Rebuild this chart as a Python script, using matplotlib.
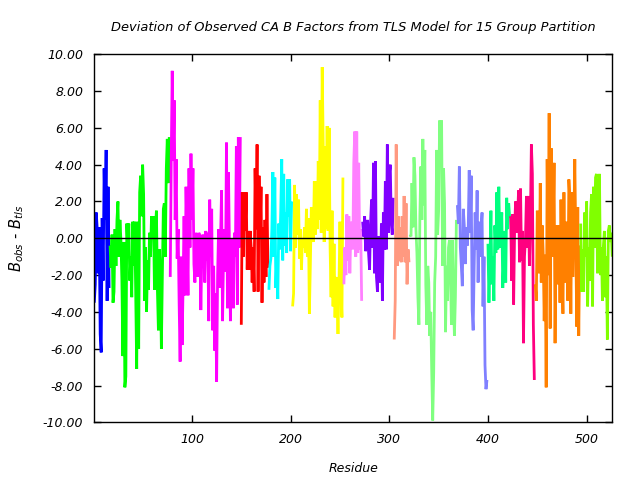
import matplotlib
matplotlib.use("Agg")
import matplotlib.pyplot as plt
import numpy as np

plt.rcParams['axes.unicode_minus'] = False
plt.rcParams['font.family'] = ['DejaVu Sans']

title = "Deviation of Observed CA B Factors from TLS Model for 15 Group Partition"

group_colors = ["#0000ff", "#00ff00", "#ff00ff", "#ff0000", "#00ffff", "#ffff00",
                "#ff80ff", "#8000ff", "#ff9980", "#80ff80", "#8080ff", "#00ff80",
                "#ff0080", "#ff8000", "#80ff00"]
group_starts = [1, 17, 78, 150, 178, 202, 254, 273, 305, 321, 369, 400, 423, 448, 494]

g1 = [-3.5, -2.5, 1.4, 0.5, -1.9, 0.6, -5.2, -6.2, 1.1, -2.3, 3.8, 1.0, 4.8, -3.4, 2.8, -2.7]
g2 = [-0.4, -1.6, 0.2, -3.5, -2.9, 0.5, -1.5, 1.0, 2.0, -1.0, 1.0, -0.1, -2.3, -6.4, -0.2,
      -8.1, -7.5, 0.8, -0.6, 0.8, -2.3, -1.0, -3.2, 0.9, -1.5, 0.9, -3.0, -7.1, 0.9, -6.0,
      2.5, 3.4, 1.2, 4.0, 2.4, -3.4, -0.5, -4.0, -1.2, -2.8, 0.3, -1.0, 1.2, 0.2, 1.2,
      -2.8, 0.6, 1.5, -2.8, -5.0, -0.6, -2.0, -6.0, -2.0, 1.6, 1.9, -1.0, 3.8, 5.4, 3.0, 5.5]
g3 = [-2.1, 4.3, 9.1, 4.2, 7.5, 1.0, 4.3, -1.1, 0.5, -3.5, -6.7,
      -1.0, -5.8, -2.6, 1.2, -3.1, 2.8, 0.0, -3.1, 3.8, -0.5, 4.6,
      1.0, 3.8, -1.4, -2.4, 0.3, -0.5, -2.1, 0.3, 0.1, -3.9,
      -0.9, 0.2, -0.5, -2.4, 0.4, -1.2, 0.3, -4.5, 2.1, -1.0,
      1.6, -5.0, -1.5, -6.1, -3.0, -7.8, -2.0, 0.5, -2.7, 0.0,
      2.6, -4.5, -1.0, 0.5, -1.8, 5.2, -3.8, 3.6, -0.5, -4.5,
      0.0, -0.5, -3.8, 0.3, -1.0, 5.0, -3.6, 5.5, -0.5, 5.5]
g4 = [-4.7, 2.5, -1.0, 2.5, 0.4, 2.5, -1.7, 0.4, -1.7, 0.4, -0.5, -2.4, -0.5, -2.9,
      3.8, 0.5, 5.1, -2.9, 3.4, 0.0, 2.8, -3.5, 0.6, -2.4, 1.0, -2.1, 2.4, -1.6]
g5 = [-2.8, -1.5, -1.1, 0.5, 3.6, -1.0, 3.3, -2.7, -1.0, -3.3, 0.8, -0.6, 1.5, 4.3,
      -1.2, 3.5, -0.4, 1.4, -0.8, 3.2, 1.2, 3.2, -0.7, 2.0]
g6 = [-3.7, -3.0, 2.9, -0.5, 2.4, 0.2, 2.1, -1.1, 0.5, -1.7,
      0.0, -0.5, 0.6, -0.8, 1.6, -1.0, 1.1, -4.1, -1.4, 1.7,
      0.5, -0.2, 3.1, 0.2, 3.1, 0.5, 4.2, 1.0, 7.5, 0.3,
      9.3, 5.2, -0.2, 5.0, 0.5, 6.1, 0.4, 6.0, -0.5, -3.2,
      1.5, -3.7, -0.3, -4.3, -2.1, -3.0, -5.2, -2.6, 0.9, -2.8,
      -4.3, 3.3]
g7 = [-2.5, -0.5, -2.0, 1.3, -1.2, 1.2, -1.9, 0.3, 0.9, -0.6, 4.1, 5.8, -1.0, 5.8,
      -0.8, 4.1, -0.6, 0.5, -3.4]
g8 = [0.9, 0.1, 1.2, -0.7, 0.0, 1.0, -0.8, -1.7, 0.8, 2.1,
      -0.5, 4.1, -1.9, 4.2, -2.1, -2.9, 0.1, -0.7, -2.4, 0.8,
      -3.4, 1.4, -0.6, 3.1, -0.6, 5.1, 0.3, 3.5, 4.0, 0.8,
      0.2, 2.2]
g9 = [-5.5, -3.4, 5.1, -1.5, 1.2, -1.2, 0.6, -1.3, 1.2, -1.0, 2.3, -1.3, 1.9, -2.5,
      -0.6, -1.3]
g10 = [0.2, 0.1, 3.0, 0.6, 4.4, 3.4, 0.5, -0.8, -3.2, -4.7,
       1.2, 3.9, 1.0, 5.4, 1.8, 4.8, -2.5, -4.7, -1.5, -2.4,
       -5.3, -4.0, -7.2, -9.9, -7.3, -2.4, -1.0, 4.8, 0.2, 1.5,
       6.4, 4.0, 6.4, -1.5, 3.8, 1.9, -5.1, -1.5, -3.4, -0.5,
       -0.1, -2.1, -4.7, -0.1, -3.2, -5.3, -3.2, 1.0]
g11 = [1.8, 0.8, 3.9, -0.5, -1.5, -2.6, 1.6, 0.7, -1.4, 0.6, -0.4, 0.6, 3.7, 0.3,
       3.4, -3.9, -5.0, -1.6, 1.4, -0.6, 2.6, -2.4, 0.9, -1.0, 0.5, 1.4, -3.7, -1.0,
       -6.9, -8.2, -7.7]
g12 = [-0.3, -3.5, -1.2, 1.5, -2.5, -1.0, -3.4, 0.7, -0.8, 2.5, -0.6, 2.8, -0.5, 0.1,
       1.4, -2.7, -1.2, 0.4, -2.4, 2.2, 0.5, 1.9, 1.1]
g13 = [1.2, -2.3, 1.3, -3.6, 0.5, 2.0, 0.3, 1.1, 2.6, -1.3, 2.7, -1.2, 0.4, -5.7,
       -1.0, 0.0, 2.3, -0.5, 2.3, -1.5, 1.0, 5.1, 3.5, -4.7, -7.7]
g14 = [-2.5, -3.4, 1.5, -0.2, -1.9, 3.0, -2.4, 0.7, -0.9, -4.5,
       -0.9, -8.1, 4.3, -2.0, 6.8, -4.9, 4.9, -1.0, 0.2, 4.1,
       -5.7, 0.7, -1.5, -2.5, 0.7, -3.5, 2.1, -1.5, -4.1, 2.5,
       -2.4, 0.5, 0.9, -3.4, 3.2, 2.1, -4.1, 2.5, -2.1, 0.5,
       4.3, -0.2, -4.8, 1.7, -5.3, -0.4]
g15 = [0.8, -2.9, -0.6, -2.9, 1.4, -1.0, 2.0, -3.7, -0.5, -2.3, 1.4, 2.4, -3.7, 2.8,
       -0.5, 3.3, 3.5, -1.9, 1.0, 3.5, -2.0, -0.5, -3.4, -0.4, 0.4, -3.2, -1.0, -5.5,
       0.4, 0.7, -0.2, 0.3, -1.0]
groups = [g1, g2, g3, g4, g5, g6, g7, g8, g9, g10, g11, g12, g13, g14, g15]

yticks = [-10, -8, -6, -4, -2, 0, 2, 4, 6, 8, 10]
xticks = [100, 200, 300, 400, 500]

fig = plt.figure(figsize=(6.4, 4.8), dpi=100)
ax = fig.add_axes([0.1473, 0.1202, 0.8094, 0.7667])

for start, vals, col in zip(group_starts, groups, group_colors):
    x = start + np.arange(len(vals))
    ax.plot(x, vals, color=col, lw=2.0, solid_joinstyle='miter', solid_capstyle='butt', zorder=2)

ax.axhline(0, color='black', lw=1.0, zorder=3)

ax.set_xlim(1, 526)
ax.set_ylim(-10, 10)
ax.set_yticks(yticks)
ax.set_yticklabels([f"{v:.2f}" for v in yticks], fontstyle='italic', fontsize=9)
ax.set_xticks(xticks)
ax.set_xticklabels([str(v) for v in xticks], fontstyle='italic', fontsize=9)
ax.tick_params(direction='in', top=True, right=True, length=5, width=1, pad=8, colors='black')
for sp in ax.spines.values():
    sp.set_linewidth(1.0)

ax.set_title(title, fontstyle='italic', fontsize=9.4, pad=17)
ax.set_xlabel("Residue", fontstyle='italic', fontsize=9, labelpad=11)
ax.set_ylabel(r"$B_{obs}$ - $B_{tls}$", fontstyle='italic', fontsize=10.5, labelpad=12)

fig.savefig("out.png", dpi=100)
